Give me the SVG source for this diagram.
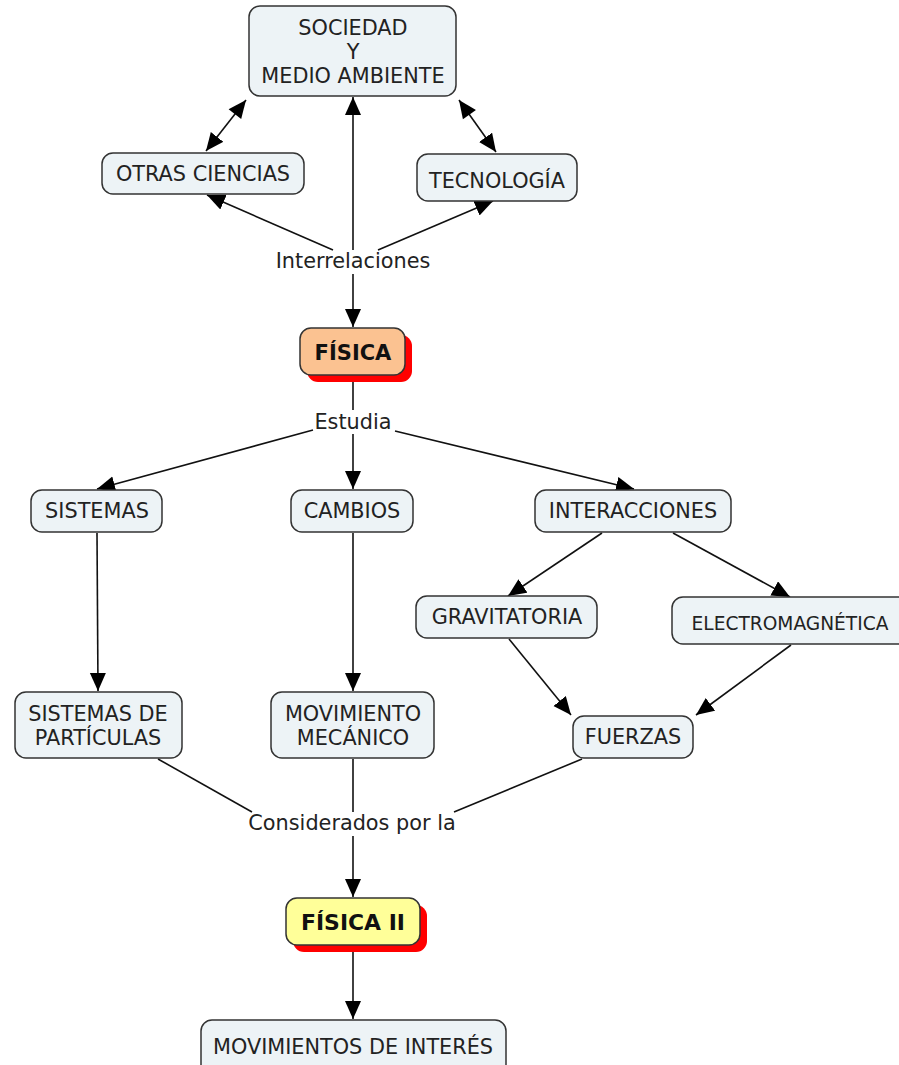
<svg xmlns="http://www.w3.org/2000/svg" width="899" height="1065" viewBox="0 0 899 1065">
<style>
.n{fill:#edf3f6;stroke:#333;stroke-width:1.5}
.t{font-family:"DejaVu Sans",Verdana,sans-serif;font-size:20.8px;fill:#222;text-anchor:middle}
.b{font-weight:bold;font-size:21px;fill:#111}
.sh{fill:#ff0000}
.c line{stroke:#111;stroke-width:1.6;fill:none}
.lab{font-family:"DejaVu Sans",Verdana,sans-serif;font-size:20.8px;fill:#222;text-anchor:middle}
</style>
<defs>
<marker id="a" markerUnits="userSpaceOnUse" markerWidth="20" markerHeight="18" refX="18" refY="8" orient="auto">
<path d="M0,0 L18,8 L0,16 z" fill="#000"/>
</marker>
<marker id="s" markerUnits="userSpaceOnUse" markerWidth="20" markerHeight="18" refX="0" refY="8" orient="auto">
<path d="M18,0 L0,8 L18,16 z" fill="#000"/>
</marker>
</defs>
<rect width="899" height="1065" fill="#fff"/>
<g class="c" id="connectors">
<line x1="246" y1="100" x2="206" y2="151" marker-start="url(#s)" marker-end="url(#a)"/>
<line x1="459" y1="100" x2="496" y2="152" marker-start="url(#s)" marker-end="url(#a)"/>
<line x1="333" y1="250" x2="207" y2="195" marker-end="url(#a)"/>
<line x1="378" y1="250" x2="493" y2="201" marker-end="url(#a)"/>
<line x1="353" y1="250" x2="353" y2="97" marker-end="url(#a)"/>
<line x1="353" y1="274" x2="353" y2="327" marker-end="url(#a)"/>
<line x1="353" y1="376" x2="353" y2="410"/>
<line x1="313" y1="430" x2="97" y2="489" marker-end="url(#a)"/>
<line x1="353" y1="434" x2="353" y2="489" marker-end="url(#a)"/>
<line x1="395" y1="431" x2="634" y2="489" marker-end="url(#a)"/>
<line x1="97" y1="533" x2="98" y2="691" marker-end="url(#a)"/>
<line x1="353" y1="533" x2="353" y2="691" marker-end="url(#a)"/>
<line x1="602" y1="533" x2="508" y2="596" marker-end="url(#a)"/>
<line x1="673" y1="533" x2="790" y2="597" marker-end="url(#a)"/>
<line x1="509" y1="639" x2="571" y2="715" marker-end="url(#a)"/>
<line x1="791" y1="645" x2="696" y2="715" marker-end="url(#a)"/>
<line x1="158" y1="759" x2="252" y2="812"/>
<line x1="353" y1="759" x2="353" y2="812"/>
<line x1="582" y1="759" x2="454" y2="812"/>
<line x1="353" y1="836" x2="353" y2="897" marker-end="url(#a)"/>
<line x1="353" y1="946" x2="353" y2="1019" marker-end="url(#a)"/>
</g>
<g id="lab-interrelaciones"><text class="lab" x="353" y="268">Interrelaciones</text></g>
<g id="lab-estudia"><text class="lab" x="353" y="429">Estudia</text></g>
<g id="lab-considerados"><text class="lab" x="352" y="830">Considerados por la</text></g>
<g id="sociedad">
<rect class="n" x="249" y="6" width="207" height="90" rx="11"/>
<text class="t" x="353" y="35">SOCIEDAD</text>
<text class="t" x="353" y="59">Y</text>
<text class="t" x="353" y="83">MEDIO AMBIENTE</text>
</g>
<g id="otras">
<rect class="n" x="102" y="153" width="202" height="41" rx="11"/>
<text class="t" x="203" y="181">OTRAS CIENCIAS</text>
</g>
<g id="tecnologia">
<rect class="n" x="417" y="154" width="160" height="47" rx="11"/>
<text class="t" x="497" y="188">TECNOLOGÍA</text>
</g>
<g id="fisica">
<rect class="sh" x="307" y="335" width="105" height="47" rx="11"/>
<rect class="n" x="300" y="328" width="105" height="47" rx="11" style="fill:#fbc291"/>
<text class="t b" x="353" y="360">FÍSICA</text>
</g>
<g id="sistemas">
<rect class="n" x="31" y="490" width="131" height="42" rx="11"/>
<text class="t" x="97" y="518">SISTEMAS</text>
</g>
<g id="cambios">
<rect class="n" x="291" y="490" width="122" height="42" rx="11"/>
<text class="t" x="352" y="518">CAMBIOS</text>
</g>
<g id="interacciones">
<rect class="n" x="535" y="490" width="196" height="42" rx="11"/>
<text class="t" x="633" y="518">INTERACCIONES</text>
</g>
<g id="gravitatoria">
<rect class="n" x="416" y="596" width="181" height="42" rx="11"/>
<text class="t" x="507" y="624">GRAVITATORIA</text>
</g>
<g id="electromagnetica">
<rect class="n" x="672" y="597" width="250" height="47" rx="11"/>
<text class="t" x="790" y="630" style="font-size:18.6px">ELECTROMAGNÉTICA</text>
</g>
<g id="particulas">
<rect class="n" x="15" y="692" width="167" height="66" rx="11"/>
<text class="t" x="98" y="721">SISTEMAS DE</text>
<text class="t" x="98" y="745">PARTÍCULAS</text>
</g>
<g id="movimiento">
<rect class="n" x="271" y="692" width="163" height="66" rx="11"/>
<text class="t" x="353" y="721">MOVIMIENTO</text>
<text class="t" x="353" y="745">MECÁNICO</text>
</g>
<g id="fuerzas">
<rect class="n" x="573" y="716" width="120" height="42" rx="11"/>
<text class="t" x="633" y="744">FUERZAS</text>
</g>
<g id="fisica2">
<rect class="sh" x="293" y="905" width="134" height="47" rx="11"/>
<rect class="n" x="286" y="898" width="134" height="47" rx="11" style="fill:#ffff99"/>
<text class="t b" x="353" y="930" textLength="104" lengthAdjust="spacingAndGlyphs">FÍSICA II</text>
</g>
<g id="movimientos">
<rect class="n" x="201" y="1020" width="305" height="60" rx="11"/>
<text class="t" x="353" y="1054">MOVIMIENTOS DE INTERÉS</text>
</g>
</svg>
